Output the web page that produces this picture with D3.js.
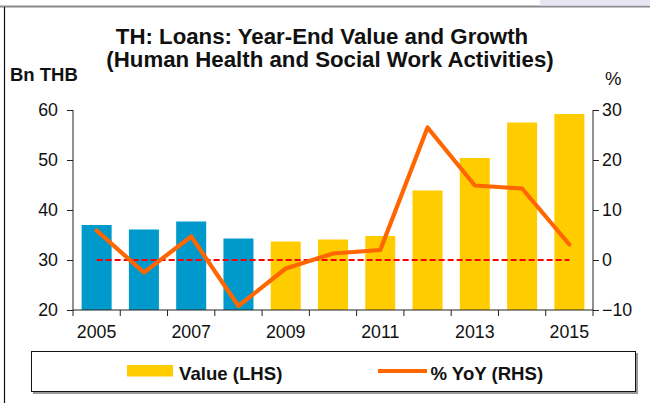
<!DOCTYPE html>
<html>
<head>
<meta charset="utf-8">
<script src="https://cdn.jsdelivr.net/npm/d3@7"></script>
<style>
  html, body { margin: 0; padding: 0; background: #fff; }
  svg { display: block; font-family: "Liberation Sans", Arial, sans-serif; }
</style>
</head>
<body>
<svg id="chart" width="650" height="403"></svg>
<script>
// Year-end loan balances (Bn THB, left axis) and YoY growth (%, right axis)
const years = [2005, 2006, 2007, 2008, 2009, 2010, 2011, 2012, 2013, 2014, 2015];
const loanValues = [37.0, 36.1, 37.7, 34.3, 33.7, 34.1, 34.8, 43.9, 50.4, 57.5, 59.2];
const yoyGrowth = [5.9, -2.5, 4.7, -9.2, -1.7, 1.3, 2.0, 26.5, 14.9, 14.3, 3.1];
const leftTicks = [20, 30, 40, 50, 60];
const rightTicks = [-10, 0, 10, 20, 30];
const yearLabels = [2005, 2007, 2009, 2011, 2013, 2015];
const seriesBlueYears = [2005, 2006, 2007, 2008];

const svg = d3.select("#chart");
const plot = { left: 73, right: 593, top: 110, bottom: 310 };
const axisColor = "#222";
const tickFont = 17.8;

// Outer frame
svg.append("line").attr("x1", 0).attr("x2", 650).attr("y1", 6.5).attr("y2", 6.5)
  .attr("stroke", "#8a8a8a").attr("stroke-width", 2);
svg.append("rect").attr("x", 540).attr("y", 0).attr("width", 110).attr("height", 5.5)
  .attr("fill", "#e6e6f2");
svg.append("line").attr("x1", 4.5).attr("x2", 4.5).attr("y1", 7).attr("y2", 403)
  .attr("stroke", "#111").attr("stroke-width", 1.2);

// Scales
const x = d3.scaleBand().domain(years).range([plot.left, plot.right])
  .paddingInner(0.365).paddingOuter(0.1825);
const yL = d3.scaleLinear().domain([20, 60]).range([plot.bottom, plot.top]);
const yR = d3.scaleLinear().domain([-10, 30]).range([plot.bottom, plot.top]);

// Titles (slightly widened bold face)
function stretchedText(parent, tx, ty, sx, txt, size, anchor) {
  return parent.append("text")
    .attr("transform", `translate(${tx},${ty}) scale(${sx},1)`)
    .attr("text-anchor", anchor || "start")
    .attr("font-weight", "bold").attr("font-size", size).attr("fill", "#111")
    .text(txt);
}
stretchedText(svg, 322, 44, 1.045, "TH: Loans: Year-End Value and Growth", 21.3, "middle");
stretchedText(svg, 330, 66.5, 1.045, "(Human Health and Social Work Activities)", 21.3, "middle");
stretchedText(svg, 10, 80.5, 1.0, "Bn THB", 18.5, "start");

svg.append("text").attr("x", 605).attr("y", 85).attr("font-size", 18.5)
  .attr("fill", "#111").text("%");

// Bars
svg.append("g").selectAll("rect").data(years).join("rect")
  .attr("x", d => x(d))
  .attr("width", x.bandwidth())
  .attr("y", (d, i) => yL(loanValues[i]))
  .attr("height", (d, i) => yL(20) - yL(loanValues[i]))
  .attr("fill", d => seriesBlueYears.includes(d) ? "#0099CC" : "#FFCC00");

// Left axis
const leftAxis = d3.axisLeft(yL).tickValues(leftTicks).tickSize(6).tickPadding(9);
const gL = svg.append("g").attr("transform", `translate(${plot.left},0)`).call(leftAxis);
gL.select(".domain").attr("stroke", axisColor).attr("d", `M0,${plot.top}V${plot.bottom}`);
gL.selectAll(".tick line").attr("stroke", axisColor);
gL.selectAll(".tick text").attr("font-size", tickFont).attr("fill", "#111")
  .attr("font-family", "Liberation Sans, Arial, sans-serif");

// Right axis
const rightAxis = d3.axisRight(yR).tickValues(rightTicks).tickSize(6).tickPadding(3);
const gR = svg.append("g").attr("transform", `translate(${plot.right},0)`).call(rightAxis);
gR.select(".domain").attr("stroke", axisColor).attr("d", `M0,${plot.top}V${plot.bottom}`);
gR.selectAll(".tick line").attr("stroke", axisColor);
gR.selectAll(".tick text").attr("font-size", tickFont).attr("fill", "#111")
  .attr("font-family", "Liberation Sans, Arial, sans-serif");

// Bottom axis: ticks at category boundaries, labels every other year
const gB = svg.append("g");
gB.append("line").attr("x1", plot.left).attr("x2", plot.right)
  .attr("y1", plot.bottom).attr("y2", plot.bottom).attr("stroke", axisColor);
const boundaries = d3.range(years.length + 1).map(i => plot.left + i * x.step());
gB.selectAll(".tk").data(boundaries).join("line").attr("class", "tk")
  .attr("x1", d => d).attr("x2", d => d)
  .attr("y1", plot.bottom).attr("y2", plot.bottom + 6).attr("stroke", axisColor);
gB.selectAll(".yl").data(yearLabels).join("text").attr("class", "yl")
  .attr("x", d => x(d) + x.bandwidth() / 2).attr("y", 337.5)
  .attr("text-anchor", "middle").attr("font-size", tickFont).attr("fill", "#111")
  .text(d => d);

// Zero-growth reference line
svg.append("line")
  .attr("x1", x(years[0]) + x.bandwidth() / 2)
  .attr("x2", x(years[years.length - 1]) + x.bandwidth() / 2)
  .attr("y1", yR(0)).attr("y2", yR(0))
  .attr("stroke", "#FF0000").attr("stroke-width", 2).attr("stroke-dasharray", "6,3");

// Growth line
const line = d3.line()
  .x((d, i) => x(years[i]) + x.bandwidth() / 2)
  .y(d => yR(d));
svg.append("path").datum(yoyGrowth).attr("d", line)
  .attr("fill", "none").attr("stroke", "#FF6600").attr("stroke-width", 4.2)
  .attr("stroke-linejoin", "round").attr("stroke-linecap", "round");

// Legend
const lg = svg.append("g");
lg.append("rect").attr("x", 33).attr("y", 353).attr("width", 605).attr("height", 41)
  .attr("fill", "#999");
lg.append("rect").attr("x", 31.5).attr("y", 351.5).attr("width", 604).attr("height", 40)
  .attr("fill", "#fff").attr("stroke", "#111").attr("stroke-width", 1);
lg.append("rect").attr("x", 127).attr("y", 365).attr("width", 46).attr("height", 11.5)
  .attr("fill", "#FFCC00");
lg.append("text").attr("x", 179).attr("y", 380).attr("font-weight", "bold")
  .attr("font-size", 18.6).attr("fill", "#111").text("Value (LHS)");
lg.append("line").attr("x1", 378).attr("x2", 427).attr("y1", 371).attr("y2", 371)
  .attr("stroke", "#FF6600").attr("stroke-width", 4);
lg.append("text").attr("x", 430.5).attr("y", 380).attr("font-weight", "bold")
  .attr("font-size", 18.6).attr("fill", "#111").text("% YoY (RHS)");
</script>
</body>
</html>
